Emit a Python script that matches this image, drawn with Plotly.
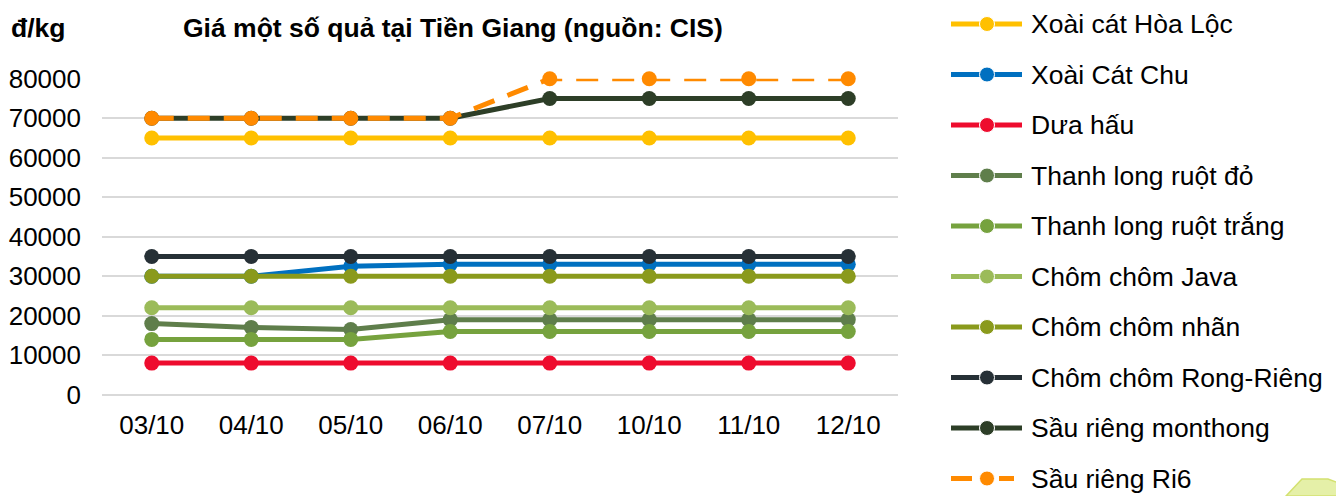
import plotly.graph_objects as go

categories = ["03/10", "04/10", "05/10", "06/10", "07/10", "10/10", "11/10", "12/10"]

series_names = [
    "Xoài cát Hòa Lộc",
    "Xoài Cát Chu",
    "Dưa hấu",
    "Thanh long ruột đỏ",
    "Thanh long ruột trắng",
    "Chôm chôm Java",
    "Chôm chôm nhãn",
    "Chôm chôm Rong-Riêng",
    "Sầu riêng monthong",
    "Sầu riêng Ri6",
]

xoai_cat_hoa_loc = [65000, 65000, 65000, 65000, 65000, 65000, 65000, 65000]
xoai_cat_chu = [30000, 30000, 32500, 33000, 33000, 33000, 33000, 33000]
dua_hau = [8000, 8000, 8000, 8000, 8000, 8000, 8000, 8000]
thanh_long_do = [18000, 17000, 16500, 19000, 19000, 19000, 19000, 19000]
thanh_long_trang = [14000, 14000, 14000, 16000, 16000, 16000, 16000, 16000]
chom_chom_java = [22000, 22000, 22000, 22000, 22000, 22000, 22000, 22000]
chom_chom_nhan = [30000, 30000, 30000, 30000, 30000, 30000, 30000, 30000]
chom_chom_rong_rieng = [35000, 35000, 35000, 35000, 35000, 35000, 35000, 35000]
sau_rieng_monthong = [70000, 70000, 70000, 70000, 75000, 75000, 75000, 75000]
sau_rieng_ri6 = [70000, 70000, 70000, 70000, 80000, 80000, 80000, 80000]

y_ticks = [0, 10000, 20000, 30000, 40000, 50000, 60000, 70000, 80000]

series_values = [
    xoai_cat_hoa_loc, xoai_cat_chu, dua_hau, thanh_long_do, thanh_long_trang,
    chom_chom_java, chom_chom_nhan, chom_chom_rong_rieng, sau_rieng_monthong, sau_rieng_ri6,
]

colors = [
    "#FFC000", "#0070C0", "#EE0C2E", "#5F7E4B", "#76A23E",
    "#9BBB59", "#8A9A1C", "#263036", "#2D3E27", "#FF8A00",
]
dashes = ["solid"] * 9 + ["22px,14px"]
legend_dashes = ["solid"] * 9 + ["21px,27px,15px,100px"]

W, H = 1336, 496
FONT = "Liberation Sans, Arial, sans-serif"

fig = go.Figure()

for name, vals, col, dash in zip(series_names, series_values, colors, dashes):
    fig.add_trace(go.Scatter(
        x=categories, y=vals, name=name, mode="lines+markers",
        line=dict(color=col, width=5, dash=dash),
        marker=dict(color=col, size=15),
        cliponaxis=False, showlegend=False,
        xaxis="x", yaxis="y",
    ))

# custom legend drawn on a pixel-mapped hidden axis pair
leg_x0, leg_xm, leg_x1 = 951, 987, 1022
leg_y0, leg_dy = 24, 50.5
annotations = []
for i, (name, col, dash) in enumerate(zip(series_names, colors, legend_dashes)):
    yy = leg_y0 + leg_dy * i
    fig.add_trace(go.Scatter(
        x=[leg_x0, leg_xm, leg_x1], y=[yy, yy, yy], mode="lines+markers",
        line=dict(color=col, width=5, dash=dash),
        marker=dict(color=col, size=[0, 15, 0], opacity=1),
        showlegend=False, hoverinfo="skip", cliponaxis=False,
        xaxis="x2", yaxis="y2",
    ))
    annotations.append(dict(
        x=1029, y=yy, xref="x2", yref="y2", text=name, showarrow=False,
        xanchor="left", yanchor="middle", font=dict(family=FONT, size=26.5, color="#000000"),
    ))

annotations.append(dict(
    x=453 / W, y=1 - 28 / H, xref="paper", yref="paper",
    text="<b>Giá một số quả tại Tiền Giang (nguồn: CIS)</b>", showarrow=False,
    xanchor="center", yanchor="middle", font=dict(family=FONT, size=26.5, color="#000000"),
))
annotations.append(dict(
    x=9 / W, y=1 - 28 / H, xref="paper", yref="paper",
    text="<b>đ/kg</b>", showarrow=False,
    xanchor="left", yanchor="middle", font=dict(family=FONT, size=26.5, color="#000000"),
))

fig.update_layout(
    width=W, height=H,
    margin=dict(l=0, r=0, t=0, b=0),
    paper_bgcolor="white", plot_bgcolor="rgba(0,0,0,0)",
    font=dict(family=FONT, size=26, color="#000000"),
    showlegend=False,
    xaxis=dict(
        domain=[102 / W, 898 / W], type="category", range=[-0.5, 7.5],
        showgrid=False, showline=False, zeroline=False, ticks="",
        tickfont=dict(family=FONT, size=26, color="#000000"),
        ticklabelstandoff=12, automargin=False, fixedrange=True,
    ),
    yaxis=dict(
        domain=[1 - 394.7 / H, 1 - 78.7 / H], range=[0, 80000],
        tickvals=y_ticks, ticktext=[str(v) for v in y_ticks],
        showgrid=True, gridcolor="#D9D9D9", gridwidth=2,
        zeroline=True, zerolinecolor="#D9D9D9", zerolinewidth=2,
        showline=False, ticks="",
        tickfont=dict(family=FONT, size=26, color="#000000"),
        ticklabelstandoff=20, automargin=False, fixedrange=True,
    ),
    xaxis2=dict(domain=[0, 1], range=[0, W], visible=False, anchor="y2", fixedrange=True),
    yaxis2=dict(domain=[0, 1], range=[H, 0], visible=False, anchor="x2", fixedrange=True),
    annotations=annotations,
    shapes=[dict(
        type="path", xref="paper", yref="paper",
        path=f"M {1286/W} 0 L {1302/W} {1-479/H} L {1328/W} {1-479/H} L 1.02 {1-492/H} L 1.02 0 Z",
        fillcolor="#E5F0A8", line=dict(color="#D3E170", width=1.5), layer="above",
    )],
)

fig.write_html(
    "out.html",
    config={"displayModeBar": False, "staticPlot": True},
    post_script="document.body.style.margin='0';document.body.style.overflow='hidden';",
)
